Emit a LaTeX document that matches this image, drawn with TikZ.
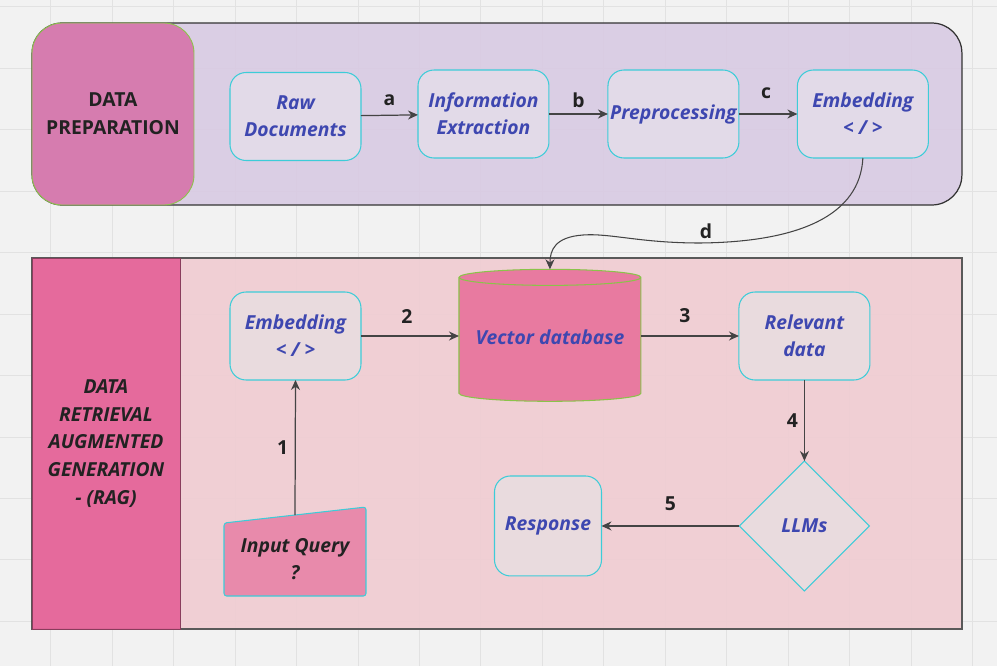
\documentclass[tikz,border=0pt]{standalone}
\usepackage{fontspec}
\setmainfont{Open Sans}
\usepackage{tikz}
\usetikzlibrary{shapes.geometric, arrows.meta, positioning, calc}
\definecolor{canvasgray}{RGB}{242, 242, 242}
\definecolor{gridgray}{RGB}{226, 226, 226}
\definecolor{prepviolet}{RGB}{217, 203, 227}
\definecolor{prepmagenta}{RGB}{214, 120, 173}
\definecolor{ragpink}{RGB}{240, 205, 210}
\definecolor{ragmagenta}{RGB}{229, 101, 154}
\definecolor{dbpink}{RGB}{232, 122, 160}
\definecolor{querypink}{RGB}{232, 138, 171}
\definecolor{topfill}{RGB}{226, 218, 232}
\definecolor{ragfill}{RGB}{233, 219, 222}
\definecolor{stepcyan}{RGB}{61, 204, 216}
\definecolor{limegreen}{RGB}{139, 195, 74}
\definecolor{textindigo}{RGB}{62, 71, 176}
\definecolor{inkgray}{RGB}{34, 34, 34}
\definecolor{arrowgray}{RGB}{68, 68, 68}

\begin{document}
\begin{tikzpicture}[
    x=0.02cm, y=-0.02cm,
    node distance=1.14cm,
    boxfont/.style={font=\fontsize{11}{15.3}\selectfont\bfseries\itshape},
    box/.style={rectangle, draw=stepcyan, line width=0.6pt, rounded corners=0.32cm, minimum width=2.62cm, minimum height=1.76cm, inner sep=0.5pt, outer sep=0pt, align=center, boxfont, text=textindigo},
    topbox/.style={box, fill=topfill},
    ragbox/.style={box, fill=ragfill},
    dbcyl/.style={cylinder, shape border rotate=90, aspect=0.1, draw=limegreen, line width=0.6pt, fill=dbpink, minimum width=3.64cm, minimum height=2.64cm, outer sep=0pt, text depth=0.16cm, boxfont, text=textindigo},
    llmdiamond/.style={diamond, aspect=1, draw=stepcyan, line width=0.6pt, fill=ragfill, minimum width=2.6cm, minimum height=2.6cm, inner sep=0pt, outer sep=0pt, boxfont, text=textindigo},
    querybox/.style={rectangle, minimum width=2.84cm, minimum height=1.46cm, inner sep=0pt, outer sep=0pt},
    queryshape/.style={draw=stepcyan, line width=0.6pt, fill=querypink, rounded corners=1.5pt},
    stagebox/.style={rectangle, minimum width=18.6cm, fill opacity=0.92},
    bandbox/.style={rectangle, align=center, text=inkgray, fill opacity=0.95, text opacity=1},
    arrow/.style={-{Stealth[length=2mm, width=1.8mm]}, line width=0.7pt, arrowgray},
    arrowlabel/.style={font=\fontsize{11}{13}\selectfont\bfseries, text=inkgray, inner sep=0pt}
]

% Canvas and grid
\fill[canvasgray] (0,0) rectangle (997,666);
\useasboundingbox (0,0) rectangle (997,666);
\foreach \k in {0,...,15}
    \draw[gridgray, line width=0.5pt] ({50.7+61.45*\k},0) -- ({50.7+61.45*\k},666);
\foreach \k in {0,...,10}
    \draw[gridgray, line width=0.5pt] (0,{6.8+61.45*\k}) -- (997,{6.8+61.45*\k});

% Data preparation stage
\node[stagebox, fill=prepviolet, draw=black!80, line width=0.7pt, rounded corners=0.6cm, minimum height=3.64cm] (prepstage) at (497,114) {};
\node[bandbox, fill=prepmagenta, draw=limegreen, line width=0.5pt, rounded corners=0.6cm, minimum width=3.24cm, minimum height=3.64cm, font=\fontsize{11}{15.8}\selectfont\bfseries] (prepband) at (113,114) {DATA\\PREPARATION};

% Retrieval stage
\node[stagebox, fill=ragpink, draw=black!65, line width=0.9pt, minimum height=7.42cm] (ragstage) at (497,443.5) {};
\node[bandbox, fill=ragmagenta, draw=ragmagenta!60!black, line width=0.5pt, minimum width=2.96cm, minimum height=7.42cm, font=\fontsize{11}{15.8}\selectfont\bfseries\itshape] (ragband) at (106,443.5) {DATA\\RETRIEVAL\\AUGMENTED\\GENERATION\\- (RAG)};

% Preparation pipeline
\node[topbox] (raw) at (295.5,116.5) {Raw\\Documents};
\node[topbox, right=of raw, yshift=0.05cm] (extract) {Information\\Extraction};
\node[topbox, right=1.18cm of extract] (preproc) {Preprocessing};
\node[topbox, right=1.17cm of preproc] (embedtop) {Embedding\\< / >};

% Retrieval pipeline
\node[ragbox] (embedrag) at (295.5,336) {Embedding\\< / >};
\node[dbcyl, right=1.96cm of embedrag, yshift=-0.1cm] (vecdb) {Vector database};
\node[ragbox, right=1.96cm of vecdb, yshift=0.1cm] (relevant) {Relevant\\data};
\node[llmdiamond, below=1.62cm of relevant] (llm) {LLMs};
\node[ragbox, left=2.76cm of llm, minimum width=2.14cm, minimum height=2cm] (response) {Response};

% Input query (slanted top)
\node[querybox] (query) at (295,559.5) {};
\draw[queryshape] (query.south west) -- (query.north west) -- ([yshift=0.32cm]query.north east) -- (query.south east) -- cycle;
\node[boxfont, text=inkgray, align=center] (querytext) at (query) {Input Query\\?};

% Arrows
\draw[arrow] (raw) -- node[arrowlabel, yshift=0.3cm] {a} (extract);
\draw[arrow] (extract) -- node[arrowlabel, yshift=0.28cm] {b} (preproc);
\draw[arrow] (preproc) -- node[arrowlabel, yshift=0.42cm, xshift=-0.04cm] {c} (embedtop);
\draw[arrow, line width=0.6pt] (embedtop.south) .. controls (860,215) and (800,242) .. (700,243)
    node[arrowlabel, above=0.08cm, xshift=0.12cm] {d}
    .. controls (640,243) and (610,233) .. (583,235) .. controls (555,237) and (550,250) .. (vecdb.north);
\draw[arrow] ([yshift=0.16cm]query.north) -- node[arrowlabel, xshift=-0.25cm] {1} (embedrag.south);
\draw[arrow] (embedrag) -- node[arrowlabel, yshift=0.4cm, xshift=-0.06cm] {2} (embedrag -| vecdb.west);
\draw[arrow] (embedrag -| vecdb.east) -- node[arrowlabel, yshift=0.4cm, xshift=-0.1cm] {3} (relevant);
\draw[arrow] (relevant) -- node[arrowlabel, xshift=-0.24cm] {4} (llm);
\draw[arrow] (llm) -- node[arrowlabel, yshift=0.44cm] {5} (response);

\end{tikzpicture}
\end{document}
